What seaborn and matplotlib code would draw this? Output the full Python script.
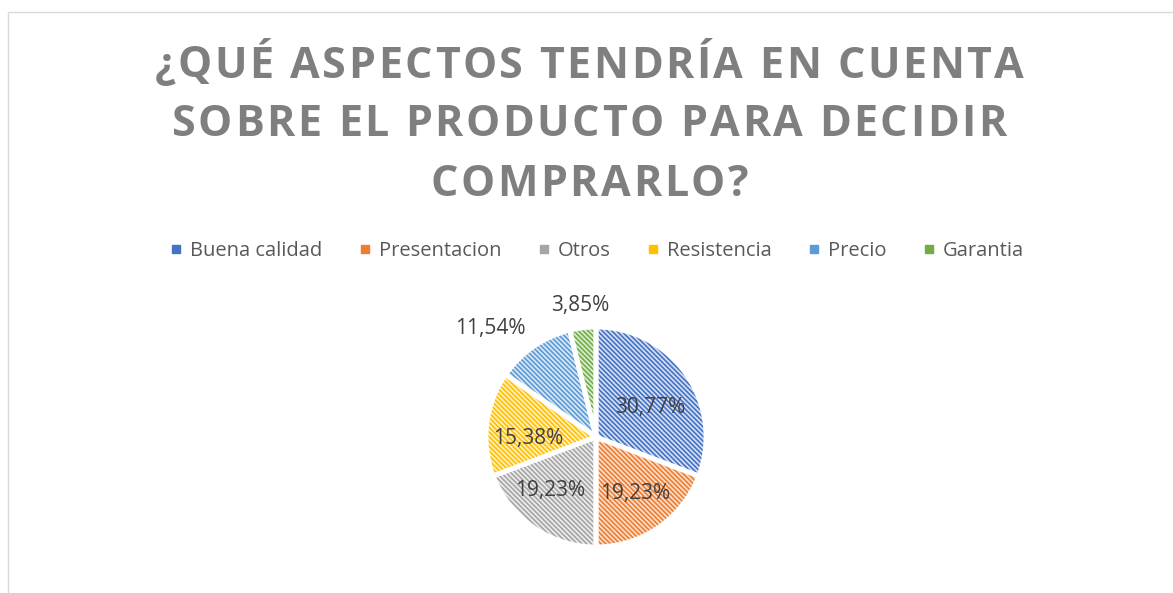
import matplotlib
matplotlib.use("Agg")
import matplotlib.pyplot as plt
import seaborn as sns
import numpy as np
from matplotlib.lines import Line2D
from matplotlib.patches import Rectangle

sns.set_theme(style="white")
plt.rcParams['font.family'] = ['Open Sans', 'DejaVu Sans']
plt.rcParams['hatch.linewidth'] = 1.2

categories = ["Buena calidad", "Presentacion", "Otros", "Resistencia", "Precio", "Garantia"]
percent = [30.77, 19.23, 19.23, 15.38, 11.54, 3.85]
title_lines = ["¿QUÉ ASPECTOS TENDRÍA EN CUENTA",
               "SOBRE EL PRODUCTO PARA DECIDIR",
               "COMPRARLO?"]

main_colors = ["#4472C4", "#ED7D31", "#A5A5A5", "#FFC000", "#5B9BD5", "#70AD47"]
light_colors = ["#D6E0F3", "#FBDECB", "#EDEDED", "#FFF0C2", "#D9E8F6", "#DCEBD2"]
label_dist = [0.56, 0.62, 0.64, 0.62, 1.38, 1.2]
label_shift = [-5.5, 0, -6.5, 8.5, 9.5, 0]

fig = plt.figure(figsize=(11.73, 5.93), dpi=100)
W, H = 1173, 593

# chart area border (top and left visible)
fig.add_artist(Rectangle((8 / W, -0.1), 1.2, (593 - 12) / H + 0.1, transform=fig.transFigure,
                         fill=False, edgecolor="#D9D9D9", linewidth=1.0))

# title with letter spacing, placed char by char
renderer = fig.canvas.get_renderer()
tracking = 2.6
for i, line in enumerate(title_lines):
    y = 1 - (66 + i * 59) / H
    texts = [fig.text(0, y, ch, ha="left", va="center", fontsize=31,
                      fontweight="bold", color="#7F7F7F") for ch in line]
    widths = [t.get_window_extent(renderer).width for t in texts]
    total = sum(widths) + tracking * (len(line) - 1)
    x = 589 - total / 2
    for t, wd in zip(texts, widths):
        t.set_x(x / W)
        x += wd + tracking

# pie axes
side = 275
cx, cy = 596, 437
ax = fig.add_axes([(cx - side / 2) / W, (H - cy - side / 2) / H, side / W, side / H])
wedges, _ = ax.pie(percent, colors=light_colors, startangle=90, counterclock=False,
                   wedgeprops=dict(linewidth=0, hatch="\\" * 7))
for w, c in zip(wedges, main_colors):
    w.set_edgecolor(c)
# white separators
ax.pie(percent, colors=["none"] * len(percent), startangle=90, counterclock=False,
       wedgeprops=dict(linewidth=3.5, edgecolor="white"))
for w, v, d, s in zip(wedges, percent, label_dist, label_shift):
    ang = np.deg2rad((w.theta1 + w.theta2) / 2 + s)
    ax.text(d * np.cos(ang), d * np.sin(ang), f"{v:.2f}".replace(".", ",") + "%",
            ha="center", va="center", fontsize=15, color="#404040")
ax.set_xlim(-1.25, 1.25)
ax.set_ylim(-1.25, 1.25)
ax.set_aspect("equal")
ax.axis("off")

handles = [Line2D([], [], marker="s", linestyle="none", markersize=6,
                  markerfacecolor=c, markeredgecolor=c) for c in main_colors]
fig.legend(handles, categories, loc="center", bbox_to_anchor=(596 / W, 1 - 251 / H), ncol=6,
           frameon=False, fontsize=14.5, labelcolor="#595959", handletextpad=0.3,
           columnspacing=1.7, handlelength=0.8)

fig.savefig("out.png", dpi=100)
